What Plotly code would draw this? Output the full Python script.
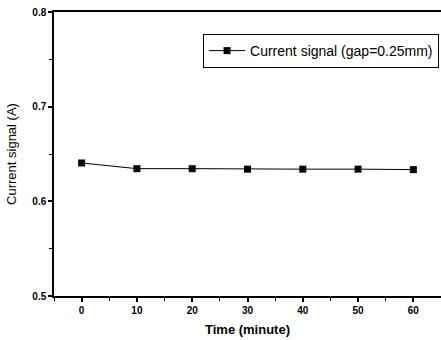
import plotly.graph_objects as go

time_min = [0, 10, 20, 30, 40, 50, 60]
current_a = [0.6405, 0.6345, 0.6345, 0.634, 0.634, 0.634, 0.6335]
x_ticks = [0, 10, 20, 30, 40, 50, 60]
y_ticks = [0.5, 0.6, 0.7, 0.8]
series_name = "Current signal (gap=0.25mm)"

fig = go.Figure()
fig.add_trace(go.Scatter(
    x=time_min, y=current_a, mode="lines+markers", name=series_name,
    line=dict(color="black", width=1),
    marker=dict(symbol="square", size=7, color="black"),
    showlegend=True,
))

font_fam = "Arial, Liberation Sans, sans-serif"
fig.update_layout(
    width=441, height=340,
    margin=dict(l=54, r=0, t=12, b=44, autoexpand=False),
    paper_bgcolor="white", plot_bgcolor="white",
    font=dict(family=font_fam, color="black"),
    showlegend=True,
    legend=dict(
        x=0.995, y=0.9225, xanchor="right", yanchor="top",
        bordercolor="black", borderwidth=1, bgcolor="white",
        font=dict(size=14, family=font_fam),
        itemwidth=36, tracegroupgap=0,
    ),
    xaxis=dict(
        range=[-5, 65], tickvals=x_ticks, ticktext=[str(v) for v in x_ticks],
        showgrid=False, zeroline=False, automargin=False,
        showline=True, linecolor="black", linewidth=1.5, mirror=True,
        ticks="outside", ticklen=4, tickwidth=1.5, tickcolor="black",
        tickfont=dict(size=10, weight="bold"),
        minor=dict(dtick=5, tick0=0, ticks="outside", ticklen=3, tickcolor="black", tickwidth=1),
        title=dict(text="Time (minute)", font=dict(size=13, weight="bold"), standoff=10),
    ),
    yaxis=dict(
        range=[0.5, 0.8], tickvals=y_ticks, ticktext=["0.5", "0.6", "0.7", "0.8"],
        showgrid=False, zeroline=False, automargin=False,
        showline=True, linecolor="black", linewidth=1.5,
        ticks="outside", ticklen=4, tickwidth=1.5, tickcolor="black",
        tickfont=dict(size=10, weight="bold"),
        minor=dict(dtick=0.05, tick0=0.5, ticks="outside", ticklen=3, tickcolor="black", tickwidth=1),
        title=dict(text="Current signal (A)", font=dict(size=13), standoff=13),
    ),
)
fig.write_html(
    "out.html",
    config={"displayModeBar": False},
    post_script="document.body.style.margin='0';document.body.style.padding='0';",
)
